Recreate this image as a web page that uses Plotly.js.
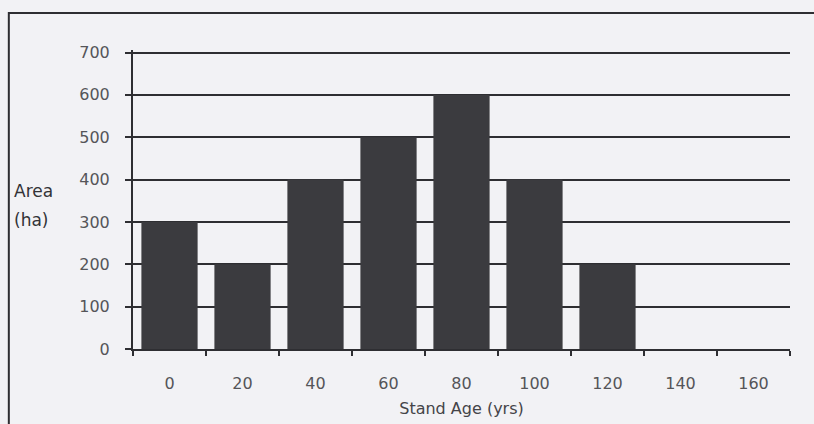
<!DOCTYPE html>
<html>
<head>
<meta charset="utf-8">
<script src="https://cdn.plot.ly/plotly-3.0.1.min.js"></script>
<style>
  html, body { margin: 0; padding: 0; background: #f2f2f5; }
  #chart { width: 814px; height: 424px; }
</style>
</head>
<body>
<div id="chart"></div>
<script>
// Stand age classes (yrs) and area per class (ha)
const ageClasses = ['0', '20', '40', '60', '80', '100', '120', '140', '160'];
const areaHa = [300, 200, 400, 500, 600, 400, 200, 0, 0];
const yTicks = [0, 100, 200, 300, 400, 500, 600, 700];

const INK = '#2e2e32';
const LABEL = '#555559';
const FONT = 'DejaVu Sans, Verdana, sans-serif';

const trace = {
    x: ageClasses,
    y: areaHa,
    type: 'bar',
    marker: { color: '#3b3b3f', line: { width: 0 } },
    hoverinfo: 'none'
};

const layout = {
    width: 814,
    height: 424,
    margin: { l: 133, r: 24, t: 50, b: 75 },
    paper_bgcolor: '#f2f2f5',
    plot_bgcolor: '#f2f2f5',
    showlegend: false,
    bargap: 0.23,
    font: { family: FONT, color: LABEL, size: 14 },
    xaxis: {
        type: 'category',
        tickson: 'boundaries',
        ticks: 'outside',
        ticklen: 5,
        tickwidth: 2,
        tickcolor: INK,
        showline: true,
        linecolor: INK,
        linewidth: 2,
        showgrid: false,
        ticklabelstandoff: 19,
        tickfont: { size: 16, color: LABEL },
        title: { text: 'Stand Age (yrs)', standoff: 11, font: { size: 16, color: '#444448' } }
    },
    yaxis: {
        range: [0, 706],
        tickvals: yTicks,
        ticks: 'outside',
        ticklen: 6,
        tickwidth: 2,
        tickcolor: INK,
        showline: true,
        linecolor: INK,
        linewidth: 2,
        showgrid: true,
        gridcolor: INK,
        gridwidth: 2,
        zeroline: false,
        ticklabelstandoff: 12,
        tickfont: { size: 16, color: LABEL }
    },
    annotations: [{
        text: 'Area',
        xref: 'paper', yref: 'paper',
        x: -0.184, y: 0.53,
        xanchor: 'left', yanchor: 'middle',
        showarrow: false,
        font: { size: 17, color: '#333337' }
    }, {
        text: '(ha)',
        xref: 'paper', yref: 'paper',
        x: -0.184, y: 0.43,
        xanchor: 'left', yanchor: 'middle',
        showarrow: false,
        font: { size: 17, color: '#333337' }
    }],
    shapes: [{
        type: 'rect',
        xref: 'paper', yref: 'paper',
        x0: -0.189, x1: 1.06,
        y0: -0.3, y1: 1.124,
        line: { color: INK, width: 2 },
        fillcolor: 'rgba(0,0,0,0)'
    }]
};

Plotly.newPlot('chart', [trace], layout, { displayModeBar: false, staticPlot: true });
</script>
</body>
</html>
